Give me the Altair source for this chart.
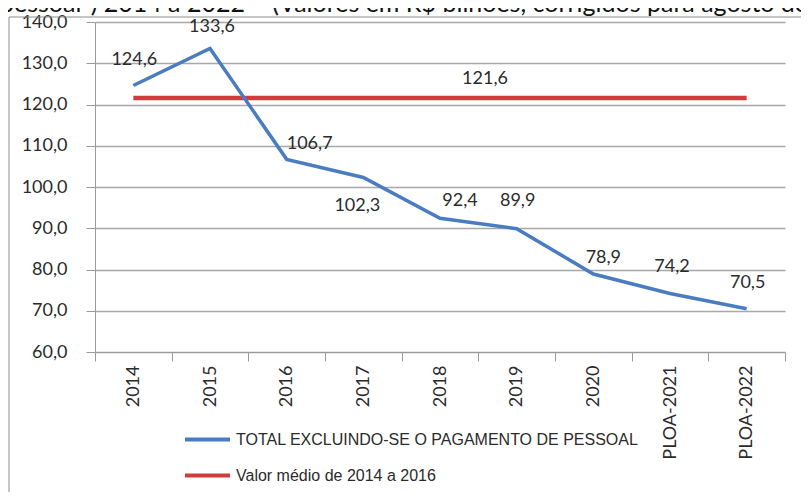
import altair as alt
import pandas as pd

# ---- data ----
categorias = ["2014", "2015", "2016", "2017", "2018", "2019", "2020", "PLOA-2021", "PLOA-2022"]
total_excl_pessoal = [124.6, 133.6, 106.7, 102.3, 92.4, 89.9, 78.9, 74.2, 70.5]
media_2014_2016 = 121.6

serie_total = "TOTAL EXCLUINDO-SE O PAGAMENTO DE PESSOAL"
serie_media = "Valor médio de 2014 a 2016"

titulo = "pessoal\") 2014 a 2022 – (Valores em R$ bilhões, corrigidos para agosto de"

# label placement (pixel offsets of each data label from its point) – style only
label_dx = [1, 2, 23, -6, 20, 1, 10, 2, 1]
label_dy = [-26, -21, -15, 28, -17, -28, -16, -26, -26]

BLUE = "#4a7dc0"
RED = "#d23c3c"
FONT = "Lato"
TXT = "#2b2b2b"

df_total = pd.DataFrame({"cat": categorias, "valor": total_excl_pessoal, "serie": serie_total})
df_media = pd.DataFrame({"cat": categorias, "valor": [media_2014_2016] * len(categorias), "serie": serie_media})

x_enc = alt.X(
    "cat:N",
    sort=categorias,
    scale=alt.Scale(type="band", domain=categorias, paddingInner=0, paddingOuter=0),
    axis=alt.Axis(
        title=None, labelAngle=-90, labelFontSize=18, labelFont=FONT, labelColor=TXT,
        tickBand="extent", tickSize=9, tickColor="#9a9a9a", domainColor="#9a9a9a",
        labelPadding=4, grid=False,
    ),
)
y_enc = alt.Y(
    "valor:Q",
    scale=alt.Scale(domain=[60, 140], nice=False, zero=False),
    axis=alt.Axis(
        title=None, values=[60, 70, 80, 90, 100, 110, 120, 130, 140],
        labelExpr="replace(format(datum.value, '.1f'), '.', ',')",
        labelFontSize=18, labelFont=FONT, labelColor=TXT, labelPadding=19,
        tickSize=9, tickColor="#9a9a9a", domainColor="#9a9a9a",
        grid=True, gridColor="#a8a8a8", gridWidth=1.3,
    ),
)
color_enc = alt.Color(
    "serie:N",
    scale=alt.Scale(domain=[serie_total, serie_media], range=[BLUE, RED]),
    legend=alt.Legend(
        title=None, orient="none", legendX=88, legendY=393, direction="vertical",
        symbolType="stroke", symbolSize=2025, symbolStrokeWidth=4,
        labelFont="Liberation Sans", labelFontSize=16, labelColor=TXT,
        labelOffset=4, rowPadding=3, padding=0, labelLimit=0,
    ),
)

frame = alt.Chart(pd.DataFrame({"a": [0]})).mark_rect(
    filled=False, stroke="#8c8c8c", strokeWidth=1
).encode(
    x=alt.value(-86), y=alt.value(-5), x2=alt.value(2000), y2=alt.value(2000)
)

media_line = alt.Chart(df_media).mark_line(strokeWidth=4.5).encode(x=x_enc, y=y_enc, color=color_enc)
total_line = alt.Chart(df_total).mark_line(strokeWidth=3.5).encode(x=x_enc, y=y_enc, color=color_enc)

layers = [frame, media_line, total_line]

df_total["rotulo"] = [f"{v:.1f}".replace(".", ",") for v in total_excl_pessoal]
for i, c in enumerate(categorias):
    layers.append(
        alt.Chart(df_total).transform_filter(alt.datum.cat == c).mark_text(
            font=FONT, fontSize=18, color=TXT, dx=label_dx[i], dy=label_dy[i], baseline="middle"
        ).encode(x=alt.X("cat:N", sort=categorias), y="valor:Q", text="rotulo:N")
    )

df_media["rotulo"] = f"{media_2014_2016:.1f}".replace(".", ",")
layers.append(
    alt.Chart(df_media).transform_filter(alt.datum.cat == "2018").mark_text(
        font=FONT, fontSize=18, color=TXT, dx=45, dy=-19, baseline="middle"
    ).encode(x=alt.X("cat:N", sort=categorias), y="valor:Q", text="rotulo:N")
)

chart = alt.layer(*layers).properties(
    width=690,
    height=330,
    padding={"left": 87, "top": 14, "right": 16, "bottom": 140},
    autosize=alt.AutoSizeParams(type="none"),
    title=alt.TitleParams(
        titulo, anchor="start", frame="group", font=FONT, fontSize=25, fontWeight="normal",
        color="#111", baseline="alphabetic", offset=0, dx=-95, dy=24,
    ),
).configure_view(stroke=None)

chart.save("out.html", embed_options={"renderer": "svg", "actions": False})
